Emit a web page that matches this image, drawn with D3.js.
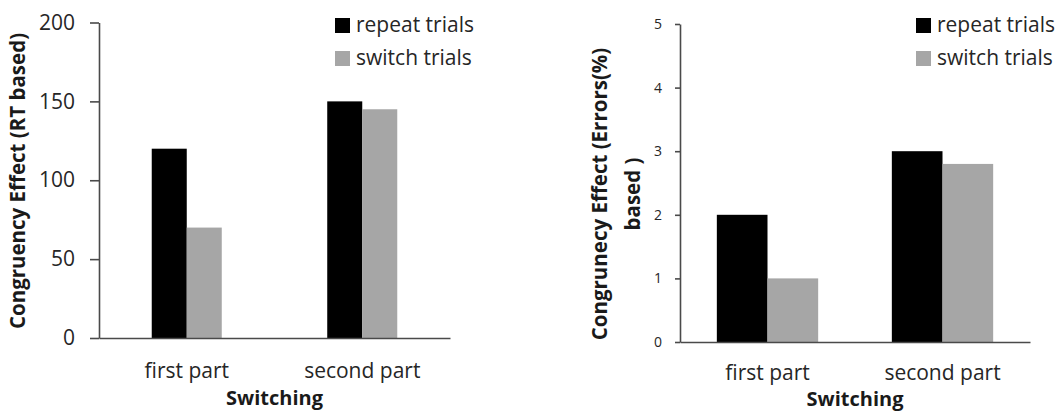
<!DOCTYPE html>
<html>
<head>
<meta charset="utf-8">
<script src="https://cdn.jsdelivr.net/npm/d3@7"></script>
<style>
  html, body { margin: 0; padding: 0; background: #fff; }
  svg { display: block; font-family: "Open Sans", sans-serif; }
</style>
</head>
<body>
<svg id="fig" width="1064" height="412"></svg>
<script>
// Categories and series
const categories = ["first part", "second part"];
const seriesNames = ["repeat trials", "switch trials"];
const seriesColors = ["#000000", "#a6a6a6"];

// Congruency effect based on RT
const rtRepeat = [120, 150];
const rtSwitch = [70, 145];
const rtTicks = [0, 50, 100, 150, 200];

// Congruency effect based on error rate (%)
const errRepeat = [2, 3];
const errSwitch = [1, 2.8];
const errTicks = [0, 1, 2, 3, 4, 5];

const svg = d3.select("#fig");
const textColor = "#262626";
const axisColor = "#4a4a4a";

function drawPanel(cfg) {
  const g = svg.append("g");
  const x0 = d3.scaleBand()
    .domain(categories)
    .range([cfg.left, cfg.right])
    .paddingInner(cfg.pad)
    .paddingOuter(cfg.pad / 2);
  const x1 = d3.scaleBand()
    .domain(seriesNames)
    .range([0, x0.bandwidth()]);
  const y = d3.scaleLinear()
    .domain([0, cfg.ticks[cfg.ticks.length - 1]])
    .range([cfg.bottom, cfg.top]);

  // bars
  const rows = categories.map((c, i) => ({
    cat: c,
    vals: seriesNames.map((s, j) => ({ name: s, value: cfg.series[j][i], color: seriesColors[j] }))
  }));
  g.selectAll("g.grp").data(rows).join("g")
    .attr("class", "grp")
    .attr("transform", d => `translate(${x0(d.cat)},0)`)
    .selectAll("rect").data(d => d.vals).join("rect")
    .attr("x", d => x1(d.name))
    .attr("width", x1.bandwidth())
    .attr("y", d => y(d.value))
    .attr("height", d => y(0) - y(d.value))
    .attr("fill", d => d.color);

  // y axis
  const ya = g.append("g")
    .attr("transform", `translate(${cfg.left},0)`)
    .call(d3.axisLeft(y).tickValues(cfg.ticks).tickFormat(d3.format("d"))
      .tickSize(cfg.tickLen).tickSizeOuter(0).tickPadding(cfg.tickPad));
  ya.select(".domain").attr("stroke", axisColor).attr("stroke-width", 1.6);
  ya.selectAll(".tick line").attr("stroke", axisColor).attr("stroke-width", 1.6);
  ya.selectAll(".tick text")
    .attr("fill", textColor)
    .style("font-size", cfg.tickFont + "px")
    .style("font-family", "Open Sans");

  // x axis
  const xa = g.append("g")
    .attr("transform", `translate(0,${cfg.bottom})`)
    .call(d3.axisBottom(x0).tickSize(0).tickSizeOuter(0).tickPadding(0));
  xa.select(".domain").attr("stroke", axisColor).attr("stroke-width", 1.6);
  xa.selectAll(".tick text")
    .attr("fill", textColor)
    .attr("y", cfg.catBase - cfg.bottom)
    .attr("dy", 0)
    .style("font-size", "21px")
    .style("font-family", "Open Sans");

  // x title
  g.append("text")
    .attr("x", (cfg.left + cfg.right) / 2)
    .attr("y", cfg.xTitleBase)
    .attr("text-anchor", "middle")
    .attr("fill", "#1a1a1a")
    .style("font-size", "20px")
    .style("font-weight", "bold")
    .text("Switching");

  // y title (one or more lines)
  cfg.yTitle.forEach((line, i) => {
    g.append("text")
      .attr("transform", `translate(${cfg.yTitleX[i]},${cfg.yTitleY}) rotate(-90)`)
      .attr("text-anchor", "middle")
      .attr("fill", "#1a1a1a")
      .style("font-size", "20.5px")
      .style("font-weight", "bold")
      .text(line);
  });

  // legend
  const lg = g.append("g").attr("transform", `translate(${cfg.legendX},${cfg.legendY})`);
  seriesNames.forEach((s, j) => {
    lg.append("rect")
      .attr("x", 0).attr("y", j * 33)
      .attr("width", 15).attr("height", 15)
      .attr("fill", seriesColors[j]);
    lg.append("text")
      .attr("x", 21).attr("y", j * 33 + 14)
      .attr("fill", textColor)
      .style("font-size", "21px")
      .text(s);
  });
}

drawPanel({
  left: 99, right: 450, top: 22.5, bottom: 338,
  pad: 0.601, ticks: rtTicks, series: [rtRepeat, rtSwitch],
  tickLen: 9, tickPad: 15, tickFont: 21,
  catBase: 378, xTitleBase: 405,
  yTitle: ["Congruency Effect (RT based)"], yTitleX: [25], yTitleY: 181,
  legendX: 335, legendY: 18
});

drawPanel({
  left: 680, right: 1030, top: 24, bottom: 342,
  pad: 0.421, ticks: errTicks, series: [errRepeat, errSwitch],
  tickLen: 5, tickPad: 13, tickFont: 14,
  catBase: 380, xTitleBase: 406,
  yTitle: ["Congrunecy Effect (Errors(%)", "based )"], yTitleX: [607, 640], yTitleY: 194,
  legendX: 916, legendY: 18
});
</script>
</body>
</html>
